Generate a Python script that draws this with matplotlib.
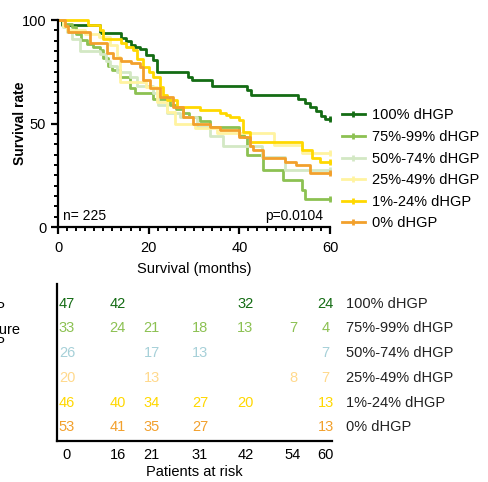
import matplotlib
matplotlib.use("Agg")
import matplotlib.pyplot as plt
from matplotlib.ticker import MultipleLocator

plt.rcParams['font.family'] = ['Liberation Sans', 'DejaVu Sans']

# Kaplan-Meier curves (months, survival %)
groups = ['100% dHGP', '75%-99% dHGP', '50%-74% dHGP', '25%-49% dHGP', '1%-24% dHGP', '0% dHGP']
colors = ['#146c14', '#8cc152', '#d3e8c4', '#fff3a0', '#ffd800', '#f2a02c']
table_colors = ['#146c14', '#8cc152', '#a6d0d8', '#ffd98c', '#ffd800', '#f2a02c']

t_100 = [0, 0.8, 9.3, 14, 15, 16, 17, 18, 19.5, 21, 21.8, 28.7, 29.5, 33.9, 41.6, 42.5, 53, 54.5, 55.6, 57, 58, 58.9, 60]
s_100 = [100, 97.8, 93.5, 91.5, 90, 88, 87, 86, 83, 80.7, 75, 72.6, 71, 68.3, 66, 63.8, 61.7, 60, 58, 56, 53.5, 52, 52]
t_75 = [0, 1, 3, 4, 5, 6.3, 7.8, 9.3, 10, 11, 12, 13.7, 15.9, 17, 21, 24.7, 26, 27.6, 29, 31.3, 33.5, 40, 41, 41.6, 45.3, 49.7, 53.8, 54.5, 60]
s_75 = [100, 98, 96.5, 93, 90.5, 88.5, 87, 85.5, 81.5, 78, 75.8, 72.5, 67, 64.5, 62, 59, 57, 55, 53, 51, 48.5, 44.5, 43.5, 35, 27.5, 22.5, 18, 13.5, 13.5]
t_50 = [0, 1, 2, 3, 4.9, 9.3, 10.5, 11.5, 13, 15.9, 17.4, 21, 22, 24, 27, 30.6, 33.5, 36.5, 45, 50, 60]
s_50 = [100, 96.5, 94, 91, 85, 83.5, 80, 78, 75, 72.5, 68, 64.5, 59, 55, 53, 48.5, 44, 39, 34, 27.5, 27.5]
t_25 = [0, 1, 2, 6, 9, 11.5, 12.9, 13.7, 19.5, 21.8, 24, 25.8, 30.3, 35, 47.7, 53.8, 60]
s_25 = [100, 97, 95, 93, 92, 88, 82, 70, 67.8, 60.5, 55.5, 50, 48, 45.3, 39.6, 35.6, 35.6]
t_1 = [0, 6.7, 9.3, 10, 14, 15, 16.6, 17.5, 18.8, 20, 21, 22.5, 23.2, 24, 26.2, 31.3, 35.7, 37, 38, 40, 40.9, 42.4, 53.8, 56, 57.8, 60]
s_1 = [100, 97.6, 95, 91, 89, 87, 85.5, 81, 77.4, 75, 72.6, 67.8, 63.8, 61.4, 58.1, 56.5, 55, 54, 53.3, 51.7, 46, 41.2, 37.2, 33.2, 31.6, 31.6]
t_0 = [0, 1.5, 2.3, 7, 10.7, 12.2, 14, 16, 18, 18.8, 20.3, 22.5, 25.4, 27.6, 29.8, 33.5, 35.7, 40, 42.4, 43, 45.3, 50, 52.6, 55.6, 60]
s_0 = [100, 97, 94, 89, 84, 81.5, 80, 79, 77.5, 71, 67, 63, 58, 53.3, 50, 48.5, 47, 43.6, 39, 37.2, 33.2, 31.6, 30, 26, 26]

times = [t_100, t_75, t_50, t_25, t_1, t_0]
surv = [s_100, s_75, s_50, s_25, s_1, s_0]

# patients at risk table
risk_times = ['0', '16', '21', '31', '42', '54', '60']
risk = [
    [47, 42, None, None, 32, None, 24],
    [33, 24, 21, 18, 13, 7, 4],
    [26, None, 17, 13, None, None, 7],
    [20, None, 13, None, None, 8, 7],
    [46, 40, 34, 27, 20, None, 13],
    [53, 41, 35, 27, None, None, 13],
]
col_x = [2, 13.2, 20.7, 31.3, 41.3, 51.8, 59]

fig = plt.figure(figsize=(4.88, 4.82), dpi=100)

# main survival plot
ax = fig.add_axes([0.1189, 0.529, 0.5574, 0.4295])
for t, s, c, g in zip(times, surv, colors, groups):
    ax.step(t, s, where='post', color=c, lw=2, label=g, clip_on=False,
            marker='|', markevery=[len(t) - 1], markersize=5, mew=2)

ax.set_xlim(0, 60)
ax.set_ylim(0, 100)
ax.spines['top'].set_visible(False)
ax.spines['right'].set_visible(False)
ax.spines['left'].set_linewidth(1.6)
ax.spines['bottom'].set_linewidth(1.6)
ax.xaxis.set_major_locator(MultipleLocator(20))
ax.xaxis.set_minor_locator(MultipleLocator(2))
ax.yaxis.set_major_locator(MultipleLocator(50))
ax.yaxis.set_minor_locator(MultipleLocator(5))
ax.tick_params(which='major', length=5, width=1.6, labelsize=10.5)
ax.tick_params(axis='x', which='major', pad=5)
ax.tick_params(which='minor', length=3, width=1.4)
ax.set_xlabel('Survival (months)', fontsize=10.5, labelpad=5)
ax.set_ylabel('Survival rate', fontsize=10, fontweight='bold', labelpad=-4)
ax.text(1, 2, 'n= 225', fontsize=10, va='bottom')
ax.text(58.5, 2, 'p=0.0104', fontsize=10, va='bottom', ha='right')

leg = ax.legend(loc='upper left', bbox_to_anchor=(0.688, 0.787), bbox_transform=fig.transFigure,
                frameon=False, fontsize=10.5, handlelength=1.6, handletextpad=0.5,
                labelspacing=0.52, borderaxespad=0, numpoints=1)

# risk table
rt = fig.add_axes([0.1168, 0.0851, 0.5635, 0.3257])
rt.set_xlim(-0.2, 60.4)
rt.set_ylim(len(groups) - 0.45, -0.8)
for i, row in enumerate(risk):
    for x, v in zip(col_x, row):
        if v is not None:
            rt.text(x, i, str(v), color=table_colors[i], fontsize=10.5, ha='center', va='center')
    rt.text(63.5, i, groups[i], fontsize=10.5, ha='left', va='center', color='#222222', clip_on=False)
rt.spines['top'].set_visible(False)
rt.spines['right'].set_visible(False)
rt.spines['left'].set_linewidth(1.6)
rt.spines['bottom'].set_linewidth(1.6)
rt.set_yticks([])
rt.set_xticks(col_x)
rt.set_xticklabels(risk_times, fontsize=10.5)
rt.tick_params(axis='x', length=0, pad=5)
rt.set_xlabel('Patients at risk', fontsize=10.5, labelpad=2)

# partly cut row label at the left edge (cut off in the original too)
fig.text(0.012, 0.361, 'dHGP', fontsize=10.5, ha='right', va='center')
fig.text(0.043, 0.316, 'Pure', fontsize=10.5, ha='right', va='center')
fig.text(0.012, 0.289, 'dHGP', fontsize=10.5, ha='right', va='center')

fig.savefig('out.png', dpi=100)
